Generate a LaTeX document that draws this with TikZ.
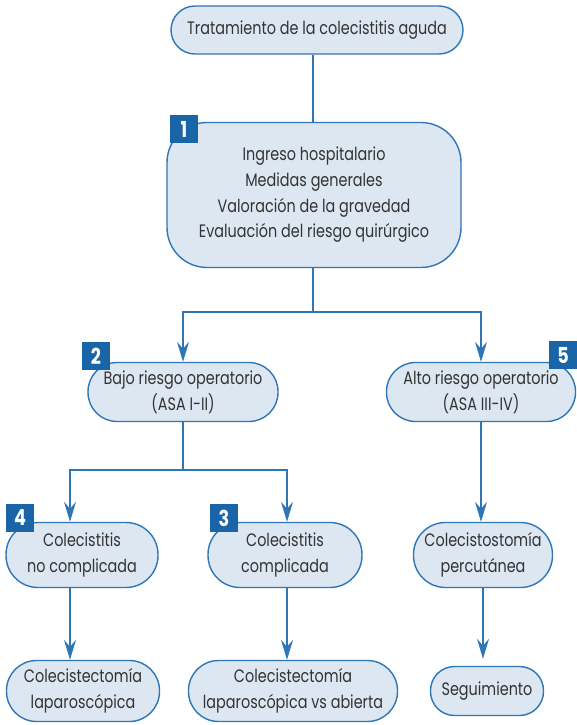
\documentclass[tikz,border=0pt]{standalone}
\usepackage{fontspec}
\setmainfont{Poppins}[FakeStretch=0.8]
\usetikzlibrary{arrows.meta}
\definecolor{boxfill}{HTML}{DDE7F2}
\definecolor{boxline}{HTML}{2F76B5}
\definecolor{badgeblue}{HTML}{1A64A8}
\definecolor{txt}{HTML}{333333}
\tikzset{
  box/.style={draw=boxline, fill=boxfill, line width=1.4pt, align=center, text=txt,
    font=\fontsize{18}{25.7}\selectfont, inner sep=0pt},
  badge/.style={fill=badgeblue, text=white, minimum width=28pt, minimum height=28pt,
    inner sep=0pt, font=\fontsize{22}{22}\selectfont\bfseries},
  line/.style={draw=boxline, line width=1.4pt},
  arr/.style={line, -{Stealth[length=20pt,width=12pt,inset=7pt]}}
}
\begin{document}
\begin{tikzpicture}[x=1pt,y=-1pt]
\useasboundingbox (0,0) rectangle (577,725);
% nodes
\node[box, minimum width=292pt, minimum height=48pt, rounded corners=24pt] (top) at (317,30) {Tratamiento de la colecistitis aguda};
\node[box, minimum width=294pt, minimum height=145pt, rounded corners=40pt] (n1) at (314,195) {Ingreso hospitalario\\Medidas generales\\Valoración de la gravedad\\Evaluación del riesgo quirúrgico};
\node[box, minimum width=190pt, minimum height=59pt, rounded corners=29pt] (n2) at (183,392) {Bajo riesgo operatorio\\(ASA I-II)};
\node[box, minimum width=189pt, minimum height=59pt, rounded corners=29pt] (n5) at (481,392) {Alto riesgo operatorio\\(ASA III-IV)};
\node[box, minimum width=152pt, minimum height=65pt, rounded corners=32pt] (n4) at (82,555) {Colecistitis\\no complicada};
\node[box, minimum width=154pt, minimum height=65pt, rounded corners=32pt] (n3) at (285,555) {Colecistitis\\complicada};
\node[box, minimum width=139pt, minimum height=65pt, rounded corners=32pt] (nP) at (483,555) {Colecistostomía\\percutánea};
\node[box, minimum width=153pt, minimum height=61pt, rounded corners=30pt] (nA) at (83,691) {Colecistectomía\\laparoscópica};
\node[box, minimum width=209pt, minimum height=61pt, rounded corners=30pt] (nB) at (293,691) {Colecistectomía\\laparoscópica vs abierta};
\node[box, minimum width=113pt, minimum height=49pt, rounded corners=24pt] (nS) at (487,691) {Seguimiento};
% badges
\node[badge] (b1) at (184,129) {1};
\node[badge] (b2) at (96,356) {2};
\node[badge] (b5) at (563,355) {5};
\node[badge] (b4) at (20,518) {4};
\node[badge] (b3) at (224,518) {3};
% connectors
\coordinate (j1) at (313,312);
\coordinate (j2) at (183,470);
\coordinate (c4) at (70,470);
\coordinate (c3) at (287,470);
\draw[line] (top.south -| j1) -- (n1.north -| j1);
\draw[line] (n1.south -| j1) -- (j1);
\draw[arr] (j1) -| (n2.north);
\draw[arr] (j1) -| (n5.north);
\draw[line] (n2.south) -- (j2);
\draw[arr] (j2) -- (c4) -- (c4 |- n4.north);
\draw[arr] (j2) -- (c3) -- (c3 |- n3.north);
\draw[arr] (c4 |- n4.south) -- (c4 |- nA.north);
\draw[arr] (c3 |- n3.south) -- (c3 |- nB.north);
\draw[arr] (n5.south) -- (n5.south |- nP.north);
\draw[arr, shorten >=7pt] (nP.south) -- (nP.south |- nS.north);
\end{tikzpicture}
\end{document}
